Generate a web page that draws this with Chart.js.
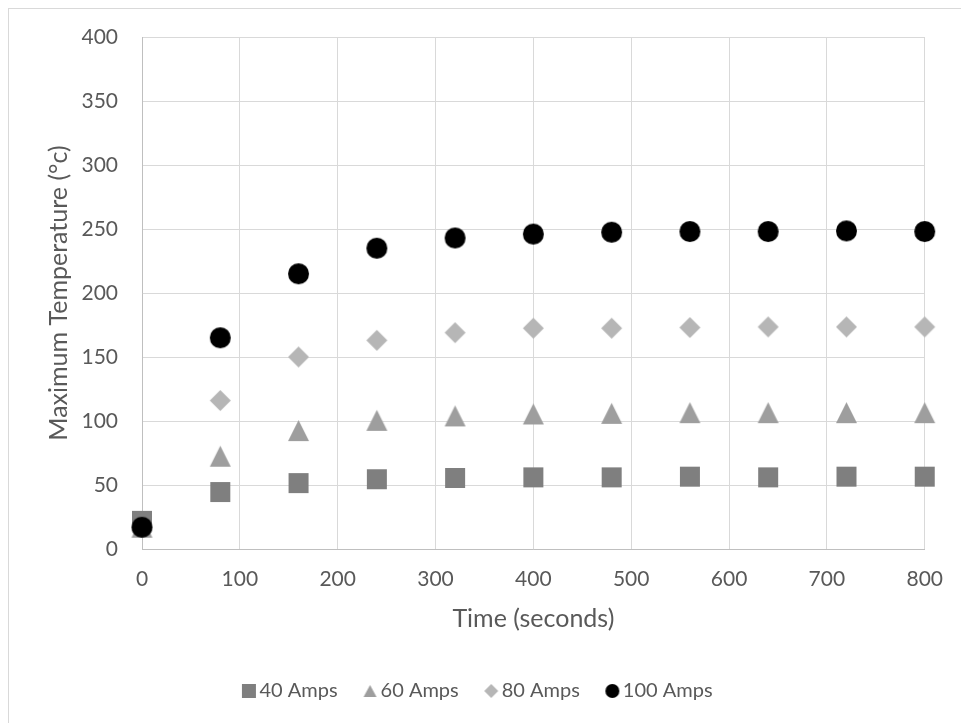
<!DOCTYPE html>
<html><head><meta charset="utf-8">
<script src="https://cdn.jsdelivr.net/npm/chart.js@4/dist/chart.umd.min.js"></script>
<style>html,body{margin:0;padding:0;background:#fff}canvas{display:block}</style>
</head><body>
<canvas id="c" width="961" height="723"></canvas>
<script>
// ---- data ----
const times   = [0, 80, 160, 240, 320, 400, 480, 560, 640, 720, 800];
const amps40  = [22, 44.5, 51.5, 54.5, 55.5, 56, 56, 56.5, 56, 56.5, 56.5];
const amps60  = [17, 72.5, 92.5, 100.5, 104, 105.5, 106, 106.5, 106.5, 106.5, 106.5];
const amps80  = [17, 116, 150, 163, 169, 172.5, 172.5, 173, 173.5, 173.5, 173.5];
const amps100 = [17, 165, 215, 235, 243, 246, 247.5, 248, 248, 248.5, 248];
const seriesNames = ['40 Amps', '60 Amps', '80 Amps', '100 Amps'];
const xTickStep = 100, xMin = 0, xMax = 800;
const yTickStep = 50, yMin = 0, yMax = 400;
const xTitle = 'Time (seconds)';
const yTitle = 'Maximum Temperature (°c)';

// ---- styling ----
const FONT = 'Lato, "Open Sans", sans-serif';
const TEXT = '#595959';
const colors = ['#7f7f7f', '#9e9e9e', '#b6b6b6', '#000000'];
const shapes = ['square', 'triangle', 'diamond', 'circle'];

function marker(shape, w, h, color) {
  const c = document.createElement('canvas');
  c.width = Math.ceil(w) + 2; c.height = Math.ceil(h) + 2;
  const g = c.getContext('2d');
  g.fillStyle = color;
  const cx = c.width / 2, cy = c.height / 2;
  g.beginPath();
  if (shape === 'circle') g.arc(cx, cy, w / 2, 0, Math.PI * 2);
  else if (shape === 'square') g.rect(cx - w / 2, cy - h / 2, w, h);
  else if (shape === 'triangle') { g.moveTo(cx, cy - h / 2); g.lineTo(cx + w / 2, cy + h / 2); g.lineTo(cx - w / 2, cy + h / 2); g.closePath(); }
  else { g.moveTo(cx, cy - h / 2); g.lineTo(cx + w / 2, cy); g.lineTo(cx, cy + h / 2); g.lineTo(cx - w / 2, cy); g.closePath(); }
  g.fill();
  return c;
}
const plotSizes = {square: [20, 20], triangle: [21, 21], diamond: [21, 21], circle: [21, 21]};
const legendSizes = {square: [14, 14], triangle: [13, 12], diamond: [14, 14], circle: [14, 14]};
const plotMarkers = shapes.map((s, i) => marker(s, plotSizes[s][0], plotSizes[s][1], colors[i]));
const legendMarkers = shapes.map((s, i) => marker(s, legendSizes[s][0], legendSizes[s][1], colors[i]));

const allSeries = [amps40, amps60, amps80, amps100];
const datasets = allSeries.map((vals, i) => ({
  label: seriesNames[i],
  data: times.map((t, j) => ({x: t, y: vals[j]})),
  pointStyle: plotMarkers[i],
  pointRadius: 10,
  backgroundColor: colors[i],
  borderColor: colors[i],
  showLine: false,
  clip: false,
  order: allSeries.length - i
}));

const framePlugin = {
  id: 'frame',
  beforeDraw(chart) {
    const ctx = chart.ctx;
    ctx.save();
    ctx.fillStyle = '#ffffff';
    ctx.fillRect(0, 0, chart.width, chart.height);
    ctx.strokeStyle = '#d9d9d9';
    ctx.lineWidth = 1;
    ctx.strokeRect(8.5, 8.5, 1200, 1200);
    ctx.restore();
  }
};

new Chart(document.getElementById('c'), {
  type: 'scatter',
  data: {datasets},
  options: {
    responsive: false,
    animation: false,
    layout: {padding: {top: 37, left: 0, right: 0, bottom: 12}},
    plugins: {
      tooltip: {enabled: false},
      legend: {
        position: 'bottom',
        labels: {
          usePointStyle: true,
          boxWidth: 1,
          boxHeight: 14,
          padding: 32,
          color: TEXT,
          font: {family: FONT, size: 20},
          sort: (a, b) => a.datasetIndex - b.datasetIndex,
          generateLabels(chart) {
            const items = Chart.defaults.plugins.legend.labels.generateLabels(chart);
            items.forEach(it => { it.pointStyle = legendMarkers[it.datasetIndex]; });
            return items;
          }
        }
      }
    },
    scales: {
      x: {
        type: 'linear', min: xMin, max: xMax,
        ticks: {stepSize: xTickStep, color: TEXT, font: {family: FONT, size: 21}, padding: 18},
        grid: {color: '#d9d9d9', drawTicks: false},
        border: {color: '#bfbfbf'},
        title: {display: true, text: xTitle, color: TEXT, font: {family: FONT, size: 25}, padding: {top: 0, bottom: 15}},
        afterFit(s) { s.height = 100; }
      },
      y: {
        type: 'linear', min: yMin, max: yMax,
        ticks: {stepSize: yTickStep, color: TEXT, font: {family: FONT, size: 21}, padding: 24},
        grid: {color: '#d9d9d9', drawTicks: false},
        border: {color: '#bfbfbf'},
        title: {display: true, text: yTitle, color: TEXT, font: {family: FONT, size: 25}, padding: {top: 44, bottom: 0}},
        afterFit(s) { s.width = 142; }
      },
      yRight: {
        type: 'linear', position: 'right', display: true,
        grid: {display: false}, border: {display: false}, ticks: {display: false},
        afterFit(s) { s.width = 35; }
      }
    }
  },
  plugins: [framePlugin]
});
</script>
</body></html>
